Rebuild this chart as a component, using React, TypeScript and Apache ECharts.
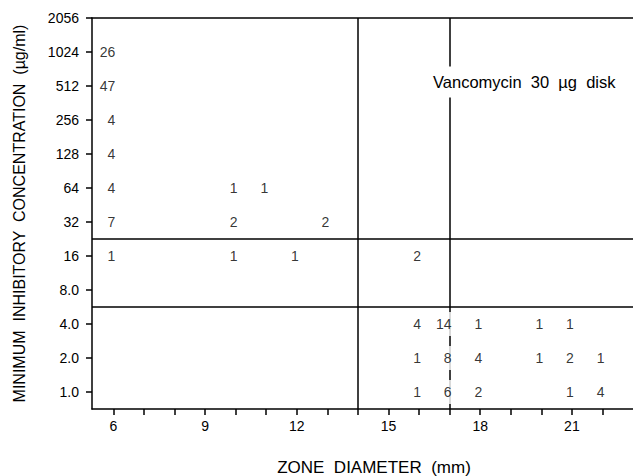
import React, { useEffect, useRef } from "react";
import * as echarts from "echarts";

// MIC levels (µg/ml), bottom to top, as printed on the axis
const micLabels = ["1.0", "2.0", "4.0", "8.0", "16", "32", "64", "128", "256", "512", "1024", "2056"];
// Zone diameter ticks (mm)
const zoneTicks = [6, 7, 8, 9, 10, 11, 12, 13, 14, 15, 16, 17, 18, 19, 20, 21, 22];
const zoneLabels = [6, 9, 12, 15, 18, 21];

// Number of isolates: [zone diameter (mm), MIC, count]
const isolates: [number, string, number][] = [
  [6, "1024", 26], [6, "512", 47], [6, "256", 4], [6, "128", 4], [6, "64", 4], [6, "32", 7], [6, "16", 1],
  [10, "64", 1], [11, "64", 1],
  [10, "32", 2], [13, "32", 2],
  [10, "16", 1], [12, "16", 1], [16, "16", 2],
  [16, "4.0", 4], [17, "4.0", 14], [18, "4.0", 1], [20, "4.0", 1], [21, "4.0", 1],
  [16, "2.0", 1], [17, "2.0", 8], [18, "2.0", 4], [20, "2.0", 1], [21, "2.0", 2], [22, "2.0", 1],
  [16, "1.0", 1], [17, "1.0", 6], [18, "1.0", 2], [21, "1.0", 1], [22, "1.0", 4],
];

// Interpretive breakpoints: zone diameters (mm) and MIC boundaries (between levels)
const zoneBreakpoints = [14, 17];
const micBreakpoints = [4.5, 2.5]; // between 16|32 and 4.0|8.0

const FONT = "'Liberation Sans', Arial, Helvetica, sans-serif";
const INK = "#000000";

export default function App() {
  const ref = useRef<HTMLDivElement>(null);

  useEffect(() => {
    if (!ref.current) return;
    const chart = echarts.init(ref.current, undefined, { renderer: "svg" });
    const micIndex = micLabels.map((_, i) => i);

    const option: any = {
      animation: false,
      backgroundColor: "#ffffff",
      color: [INK],
      grid: { left: 92, right: 0, top: 18, bottom: 67 },
      xAxis: [
        {
          type: "value",
          min: 5.3,
          max: 23,
          axisLine: { show: true, onZero: false, lineStyle: { color: INK, width: 1.5 } },
          axisTick: { show: true, length: 6, customValues: zoneTicks, lineStyle: { color: INK, width: 1.5 } },
          axisLabel: {
            customValues: zoneLabels,
            margin: 10,
            fontFamily: FONT,
            fontSize: 14,
            color: INK,
          },
          splitLine: { show: false },
        },
        {
          type: "value",
          position: "top",
          min: 5.3,
          max: 23,
          axisLine: { show: true, onZero: false, lineStyle: { color: INK, width: 1.5 } },
          axisTick: { show: false },
          axisLabel: { show: false },
          splitLine: { show: false },
        },
      ],
      yAxis: {
        type: "value",
        min: -0.5,
        max: 11,
        name: "MINIMUM  INHIBITORY  CONCENTRATION  (µg/ml)",
        nameLocation: "middle",
        nameGap: 65,
        nameTextStyle: { fontFamily: FONT, fontSize: 16, color: INK },
        axisLine: { show: true, onZero: false, lineStyle: { color: INK, width: 1.5 } },
        axisTick: { show: true, length: 6, customValues: micIndex, lineStyle: { color: INK, width: 1.5 } },
        axisLabel: {
          customValues: micIndex,
          margin: 13,
          fontFamily: FONT,
          fontSize: 14,
          color: INK,
          formatter: (v: number) => micLabels[Math.round(v)] ?? "",
        },
        splitLine: { show: false },
      },
      series: [
        {
          type: "scatter",
          z: 1,
          data: [],
          silent: true,
          markLine: {
            silent: true,
            symbol: ["none", "none"],
            label: { show: false },
            lineStyle: { color: INK, type: "solid", width: 1.5 },
            data: [
              ...zoneBreakpoints.map((x) => ({ xAxis: x })),
              ...micBreakpoints.map((y) => ({ yAxis: y })),
            ],
          },
        },
        {
          type: "scatter",
          z: 10,
          symbolSize: 0,
          silent: true,
          itemStyle: { color: INK },
          data: isolates.map(([zone, mic, n]) => [zone, micLabels.indexOf(mic), n]),
          label: {
            show: true,
            position: [0, 0],
            align: "right",
            verticalAlign: "middle",
            offset: [4, 0],
            formatter: (p: any) => String(p.value[2]),
            fontFamily: FONT,
            fontSize: 14,
            color: INK,
            textBorderWidth: 0,
            backgroundColor: "#ffffff",
            padding: [5, 2],
          },
        },
      ],
      graphic: [
        {
          type: "text",
          z: 100,
          x: 431,
          y: 82,
          style: {
            text: "Vancomycin  30  µg  disk",
            fontFamily: FONT,
            fontSize: 16.5,
            fill: INK,
            verticalAlign: "middle",
            backgroundColor: "#ffffff",
            padding: [7, 2],
          },
        },
        {
          type: "text",
          z: 100,
          x: 374,
          y: 467,
          style: {
            text: "ZONE  DIAMETER  (mm)",
            fontFamily: FONT,
            fontSize: 17,
            fill: INK,
            align: "center",
            verticalAlign: "middle",
          },
        },
      ],
    };

    chart.setOption(option);
    return () => chart.dispose();
  }, []);

  return (
    <div
      ref={ref}
      style={{ position: "absolute", left: 0, top: 0, width: 633, height: 476, background: "#fff" }}
    />
  );
}
